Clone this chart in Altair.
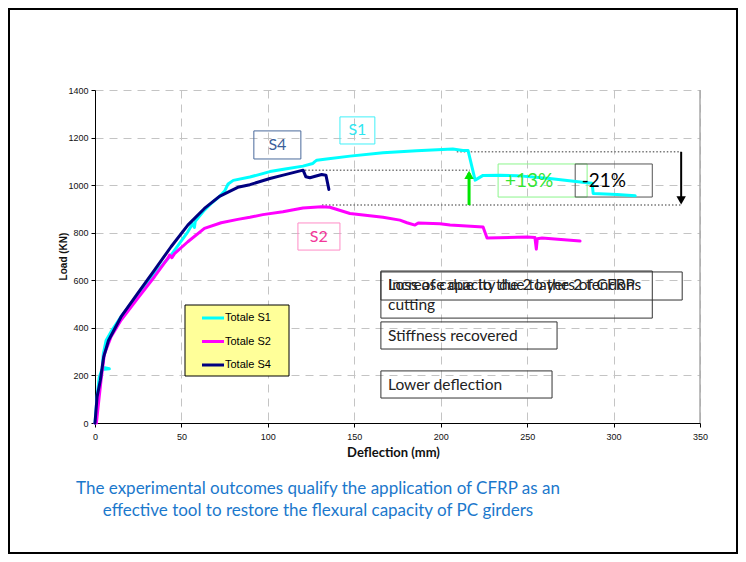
import altair as alt
import pandas as pd

# ---------------- data ----------------
series = ["Totale S1", "Totale S2", "Totale S4"]
colors = ["#00ffff", "#ff00ff", "#000080"]

s1_x = [0, 1.2, 2.4, 4.0, 8.3, 4.2, 4.8, 6.4, 9.3, 15.1, 24.7, 34.4, 44.0, 53.7, 56.5, 57.5, 58.0,
        63.3, 68.0, 72.0, 75.0, 77.0, 80.0, 89.6, 101.2, 110.0, 120.3, 126.0, 127.0, 128.3, 134.0,
        147.5, 166.6, 186.0, 207.0, 212.9, 215.8, 219.9, 224.5, 234.3, 244.0, 263.0, 282.0, 287.6,
        288.2, 302.0, 312.5]
s1_y = [0, 110, 190, 225, 228, 235, 290, 347, 384, 447, 538, 626, 706, 804, 838, 822, 848,
        895, 928, 952, 975, 1005, 1020, 1034, 1057, 1068, 1080, 1091, 1098, 1105, 1110,
        1122, 1136, 1145, 1152, 1146, 1146, 1021, 1041, 1042, 1040, 1028, 1012, 1008,
        965, 961, 955]

s2_x = [0, 0.8, 1.6, 3.5, 5.4, 9.3, 15.1, 24.7, 34.4, 42.1, 43.2, 44.5, 46.0, 53.7, 63.3, 73.0,
        82.6, 89.6, 97.1, 108.7, 120.3, 131.1, 135.9, 147.5, 166.6, 176.4, 180.5, 185.1, 187.0,
        199.6, 205.4, 224.5, 226.8, 249.9, 254.5, 255.3, 255.9, 258.6, 280.6]
s2_y = [0, 0, 54, 180, 289, 363, 433, 524, 615, 692, 706, 695, 712, 762, 818, 842,
        856, 865, 876, 888, 904, 909, 907, 881, 865, 853, 842, 832, 841,
        838, 832, 824, 778, 782, 780, 731, 775, 778, 765]

s4_x = [0, 1.2, 3.1, 5.0, 7.8, 15.1, 24.7, 34.4, 44.0, 53.7, 63.3, 72.0, 82.6, 89.6, 101.2,
        108.9, 120.4, 122.0, 124.3, 131.1, 133.6, 135.3]
s4_y = [0, 110, 180, 277, 347, 447, 545, 643, 741, 832, 902, 953, 991, 1002, 1028,
        1042, 1063, 1035, 1031, 1045, 1042, 982]

x_ticks = [0, 50, 100, 150, 200, 250, 300, 350]
y_ticks = [0, 200, 400, 600, 800, 1000, 1200, 1400]

# dotted reference levels (load) and their extents (deflection)
ref_y = [1140, 1063, 916]
ref_x1 = [209.3, 121.4, 131.3]
ref_x2 = [339.1, 216.9, 339.1]

# arrows: x, from, to
arrow_x = [216.4, 339.1]
arrow_from = [916, 1140]
arrow_to = [1063, 916]
arrow_col = ["#00e600", "#000000"]

# labelled boxes (data units)
box_x1 = [91.9, 141.7, 117.4, 233.2, 277.8, 165.4, 165.4, 165.4, 165.4]
box_x2 = [119.1, 161.9, 141.7, 284.7, 322.4, 339.7, 322.4, 267.3, 264.4]
box_y1 = [1228, 1287, 841, 1089, 1089, 635, 639, 425, 219]
box_y2 = [1110, 1173, 727, 950, 950, 517, 441, 311, 105]
box_col = ["#4a6a9c", "#40f0f8", "#ff8cc6", "#8cf58c", "#555555",
           "#333333", "#333333", "#333333", "#333333"]

lab_text = ["S4", "S1", "S2", "+13%", "-21%"]
lab_x = [105.5, 151.8, 129.5, 251.1, 294.4]
lab_y = [1169, 1230, 784, 1018, 1018]
lab_col = ["#3a5f9b", "#2ee6f0", "#f2379a", "#33e633", "#000000"]
lab_size = [16, 16, 16, 19, 19]

note_text = ["Increase due to the 2 layers of CFRP",
             "Loss of capacity due to the 2 tendons",
             "cutting",
             "Stiffness recovered",
             "Lower deflection"]
note_x = [169.5, 169.5, 169.5, 169.5, 169.5]
note_y = [580, 580, 496, 366, 160]

caption = ["The experimental outcomes qualify the application of CFRP as an",
           "effective tool to restore the flexural capacity of PC girders"]

# ---------------- frames ----------------
rows = []
for name, xs_, ys_ in zip(series, [s1_x, s2_x, s4_x], [s1_y, s2_y, s4_y]):
    for i, (xv, yv) in enumerate(zip(xs_, ys_)):
        rows.append({"series": name, "defl": xv, "load": yv, "i": i})
df = pd.DataFrame(rows)

ref_df = pd.DataFrame({"y": ref_y, "x1": ref_x1, "x2": ref_x2})
arr_df = pd.DataFrame({"x": arrow_x, "y1": arrow_from, "y2": arrow_to, "c": arrow_col})
arr_df["shaft_end"] = [t - 12 if t > f else t + 12 for f, t in zip(arrow_from, arrow_to)]
arr_df["head"] = [t - 20 if t > f else t + 20 for f, t in zip(arrow_from, arrow_to)]
arr_df["shape"] = ["triangle-up" if t > f else "triangle-down" for f, t in zip(arrow_from, arrow_to)]
box_df = pd.DataFrame({"x1": box_x1, "x2": box_x2, "y1": box_y1, "y2": box_y2, "c": box_col})
lab_df = pd.DataFrame({"t": lab_text, "x": lab_x, "y": lab_y, "c": lab_col, "s": lab_size})
note_df = pd.DataFrame({"t": note_text, "x": note_x, "y": note_y})
leg_df = pd.DataFrame({"name": series, "c": colors,
                       "ly": [228 + 23.5 * k for k in range(len(series))]})
cap_df = pd.DataFrame({"t": caption, "ly": [399 + 22 * k for k in range(len(caption))]})
one = pd.DataFrame({"a": [0]})

xs = alt.Scale(domain=[0, 350], nice=False)
ys = alt.Scale(domain=[0, 1400], nice=False)

FONT = "Lato"
AXF = "Liberation Sans"

x_axis = alt.Axis(values=x_ticks, format="d", title="Deflection (mm)", titleFont=FONT,
                  titleFontSize=13, titleFontWeight="bold", titleColor="#111", titleX=298,
                  titleY=29, titleBaseline="middle", labelFont=AXF, labelFontSize=9,
                  labelColor="#111", labelPadding=5, tickSize=4, tickColor="#000",
                  domainColor="#000", gridDash=[8, 6], gridColor="#c4c4c4", labelFlush=False)
y_axis = alt.Axis(values=y_ticks, format="d", title="Load (KN)", titleFont=AXF, titleFontSize=10,
                  titleFontWeight="bold", titleColor="#111", titleX=-32, titleY=166,
                  titleAngle=270, titleAlign="center", titleBaseline="middle",
                  labelFont=AXF, labelFontSize=9, labelColor="#111", labelPadding=3,
                  tickSize=4, tickColor="#000", domainColor="#000",
                  gridDash=[8, 6], gridColor="#c4c4c4", labelFlush=False)

border = alt.Chart(one).mark_rect(fillOpacity=0, stroke="#000", strokeWidth=2).encode(
    x=alt.value(-86), x2=alt.value(642), y=alt.value(-81), y2=alt.value(463))

right_edge = alt.Chart(one).mark_rule(color="#a8a8a8", strokeWidth=1.5).encode(
    x=alt.value(605), y=alt.value(0), y2=alt.value(333))

lines = alt.Chart(df).mark_line(strokeWidth=3, strokeJoin="round", strokeCap="round").encode(
    x=alt.X("defl:Q", scale=xs, axis=x_axis),
    y=alt.Y("load:Q", scale=ys, axis=y_axis),
    color=alt.Color("series:N", scale=alt.Scale(domain=series, range=colors), legend=None),
    order="i:Q",
)

refs = alt.Chart(ref_df).mark_rule(strokeDash=[1.5, 2], color="#777", strokeWidth=1.5).encode(
    x=alt.X("x1:Q", scale=xs), x2="x2:Q", y=alt.Y("y:Q", scale=ys))

shafts = alt.Chart(arr_df).mark_rule().encode(
    x=alt.X("x:Q", scale=xs), y=alt.Y("y1:Q", scale=ys), y2="shaft_end:Q",
    color=alt.Color("c:N", scale=None),
    strokeWidth=alt.condition(alt.datum.c == "#000000", alt.value(2), alt.value(3)))

heads = alt.Chart(arr_df).mark_point(filled=True, size=90, opacity=1).encode(
    x=alt.X("x:Q", scale=xs), y=alt.Y("head:Q", scale=ys),
    shape=alt.Shape("shape:N", scale=None), color=alt.Color("c:N", scale=None))

boxes = alt.Chart(box_df).mark_rect(fillOpacity=0, strokeWidth=1).encode(
    x=alt.X("x1:Q", scale=xs), x2="x2:Q", y=alt.Y("y1:Q", scale=ys), y2="y2:Q",
    stroke=alt.Color("c:N", scale=None))

labels = alt.Chart(lab_df).mark_text(font=FONT, align="center", baseline="middle").encode(
    x=alt.X("x:Q", scale=xs), y=alt.Y("y:Q", scale=ys), text="t:N",
    color=alt.Color("c:N", scale=None), size=alt.Size("s:Q", scale=None))

notes = alt.Chart(note_df).mark_text(font=FONT, fontSize=15.5, align="left", baseline="middle",
                                     color="#222").encode(
    x=alt.X("x:Q", scale=xs), y=alt.Y("y:Q", scale=ys), text="t:N")

leg_box = alt.Chart(one).mark_rect(fill="#ffff99", stroke="#000", strokeWidth=1).encode(
    x=alt.value(90), x2=alt.value(194), y=alt.value(215), y2=alt.value(286))
leg_lines = alt.Chart(leg_df).mark_rule(strokeWidth=3).encode(
    x=alt.value(107), x2=alt.value(129), y=alt.Y("ly:Q", scale=None),
    color=alt.Color("c:N", scale=None))
leg_text = alt.Chart(leg_df).mark_text(font=AXF, fontSize=11, align="left", baseline="middle",
                                       color="#000").encode(
    x=alt.value(130), y=alt.Y("ly:Q", scale=None), text="name:N")

cap = alt.Chart(cap_df).mark_text(font=FONT, fontSize=17, align="center", baseline="middle",
                                  color="#1b78cc").encode(
    x=alt.value(223), y=alt.Y("ly:Q", scale=None), text="t:N")

chart = alt.layer(
    border, right_edge, refs, boxes, lines, shafts, heads, labels, notes,
    leg_box, leg_lines, leg_text, cap
).properties(
    width=605, height=333,
    autosize=alt.AutoSizeParams(type="none"),
    padding={"left": 87, "top": 82, "right": 38, "bottom": 131},
    background="white",
).configure_view(stroke=None)

chart.save("out.html", embed_options={"renderer": "svg", "actions": False})
